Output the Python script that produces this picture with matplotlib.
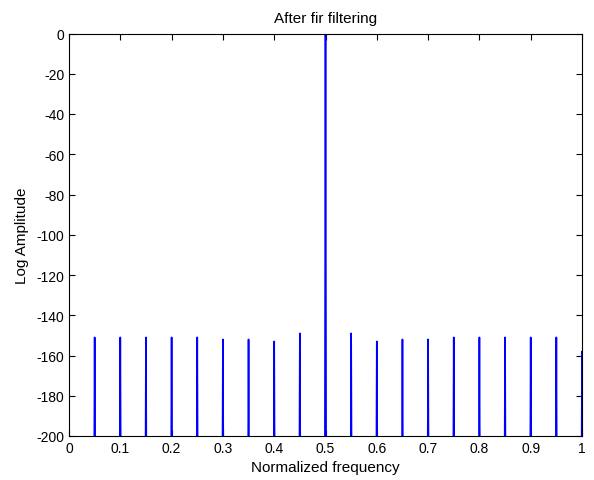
import numpy as np
import matplotlib
matplotlib.use("Agg")
import matplotlib.pyplot as plt

plt.rcParams['font.family'] = ['Liberation Sans', 'DejaVu Sans']
plt.rcParams['axes.unicode_minus'] = False

# Spectral lines of the filtered signal (normalized frequency, dB)
line_freqs = [0.05, 0.10, 0.15, 0.20, 0.25, 0.30, 0.35, 0.40, 0.45, 0.50,
              0.55, 0.60, 0.65, 0.70, 0.75, 0.80, 0.85, 0.90, 0.95, 1.00]
line_levels = [-151, -151, -151, -151, -151, -152, -152, -153, -149, 0,
               -149, -153, -152, -152, -151, -151, -151, -151, -151, -158]
noise_floor = -260.0   # spectrum level between the lines (below the view)
line_halfwidth = 0.0015

# Build the spectrum trace: floor, rise to each line, back to floor
freq = [0.0]
amp = [noise_floor]
for f, a in zip(line_freqs, line_levels):
    freq += [f - line_halfwidth, f, f + line_halfwidth]
    amp += [noise_floor, a, noise_floor]
freq = np.array(freq)
amp = np.array(amp)

fig = plt.figure(figsize=(5.94, 4.81), dpi=100)
ax = fig.add_axes([69/594, 44/481, 513/594, 402.5/481])
ax.plot(freq, amp, color='#0000ff', linewidth=1.2)

ax.set_xlim(0, 1)
ax.set_ylim(-200, 0)
ax.set_xticks(np.arange(0, 1.01, 0.1))
ax.set_xticklabels(['0', '0.1', '0.2', '0.3', '0.4', '0.5', '0.6', '0.7', '0.8', '0.9', '1'])
ax.set_yticks(np.arange(-200, 1, 20))
ax.tick_params(direction='in', top=True, right=True, labelsize=10, length=4, width=0.8)
for s in ax.spines.values():
    s.set_linewidth(0.8)

ax.set_title('After fir filtering', fontsize=11, pad=8.5)
ax.set_xlabel('Normalized frequency', fontsize=11, labelpad=4)
ax.set_ylabel('Log Amplitude', fontsize=11, labelpad=5)

fig.savefig('out.png', dpi=100)
